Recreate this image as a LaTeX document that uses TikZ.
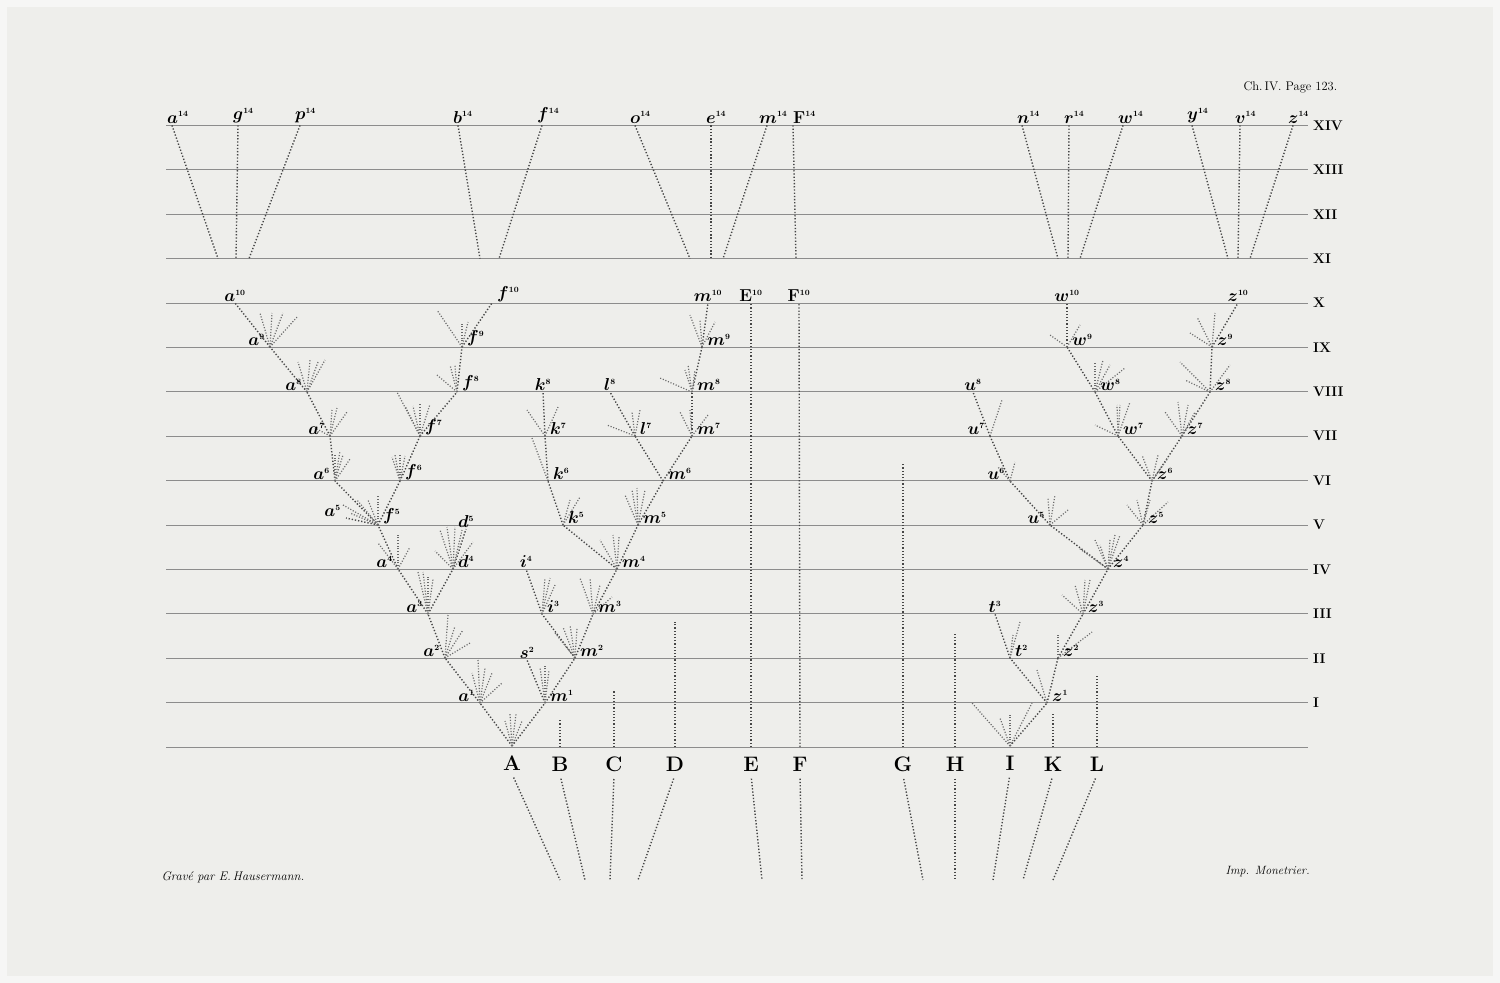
\documentclass[tikz,border=0pt]{standalone}
\usepackage{tikz}
\usetikzlibrary{positioning,calc}
\definecolor{paper}{RGB}{238,238,235}
\definecolor{rim}{RGB}{246,246,245}
\definecolor{ink}{RGB}{70,70,70}
\tikzset{
rule/.style={draw=black!45,line width=0.9pt},
branch/.style={draw=ink,line width=1.4pt,dash pattern=on 1.3pt off 1.9pt},
twig/.style={draw=black!58,line width=1.2pt,dash pattern=on 1.1pt off 1.7pt},
sp/.style={inner xsep=5pt,inner ysep=1pt,font=\fontsize{16}{16}\selectfont\boldmath},
genus/.style={font=\bfseries\fontsize{21}{21}\selectfont},
gen/.style={anchor=west,inner sep=1pt,font=\bfseries\fontsize{14}{14}\selectfont},
note/.style={anchor=west,font=\itshape\fontsize{12.5}{12.5}\selectfont}
}
\begin{document}
\begin{tikzpicture}[x=1pt,y=-1pt]
\fill[rim] (0,0) rectangle (1500,983);
\fill[paper] (7,7) rectangle (1493,976);
\useasboundingbox (0,0) rectangle (1500,983);

% generations
\foreach \k in {0,...,14}{
\coordinate (rl\k) at (166,{747-44.4*\k});
\coordinate (rr\k) at (1308,{747-44.4*\k});
\draw[rule] (rl\k)--(rr\k);
}
\foreach \k/\r in {1/I,2/II,3/III,4/IV,5/V,6/VI,7/VII,8/VIII,9/IX,10/X,11/XI,12/XII,13/XIII,14/XIV}
\node[gen] (g\k) at ($(rr\k)+(4,0)$) {\r};

% points of the tree
\foreach \n/\x/\y in {
A/512/746,B/560/747,C/614/747,D/675/747,E/751/747,F/800/747,G/903/747,H/955/747,I/1010/746,K/1053/747,L/1097/747,
Bt/560/720,Ct/614/690,Dt/675/622,Gt/903/463,Ht/955/632,Kt/1053/712,Lt/1097/676,E10/751/303,F10/799/303,
a1/480/703,a2/445/658,a3/428/614,a4/398/569,d4/453/569,a5/346/518,d5/466/529,f5/378/525,
a6/335/481,f6/400/481,a7/330/436,f7/420/436,a8/307/392,f8/457/392,a9/270/347,f9/462/347,a10/235/303,f10/492/303,
m1/545/703,s2/527/660,m2/575/658,i3/542/614,m3/593/614,i4/526/569,m4/617/569,k5/563/525,m5/638/525,
k6/548/481,m6/663/481,k7/545/436,l7/635/436,m7/692/436,k8/543/392,l8/610/392,m8/692/392,m9/702/347,m10/708/303,
z1/1047/703,t2/1010/658,z2/1058/658,t3/995/614,z3/1083/614,z4/1108/569,u5/1050/525,z5/1143/525,
u6/1010/481,z6/1152/481,u7/990/436,w7/1118/436,z7/1182/436,u8/973/392,w8/1095/392,z8/1210/392,
w9/1067/347,z9/1212/347,w10/1067/303,z10/1238/303}
\coordinate (\n) at (\x,\y);

% lines of descent
\foreach \u/\v in {
B/Bt,C/Ct,D/Dt,E/E10,F/F10,G/Gt,H/Ht,K/Kt,L/Lt,
A/a1,A/m1,a1/a2,a2/a3,a3/a4,a3/d4,a4/f5,d4/d5,f5/a5,f5/a6,f5/f6,a6/a7,a7/a8,a8/a9,a9/a10,f6/f7,f7/f8,f8/f9,f9/f10,
m1/s2,m1/m2,m2/i3,m2/m3,i3/i4,m3/m4,m4/k5,m4/m5,k5/k6,k6/k7,k7/k8,m5/m6,m6/l7,m6/m7,l7/l8,m7/m8,m8/m9,m9/m10,
I/z1,z1/t2,z1/z2,t2/t3,z2/z3,z3/z4,z4/u5,z4/z5,u5/u6,u6/u7,u7/u8,z5/z6,z6/w7,z6/z7,w7/w8,w8/w9,w9/w10,z7/z8,z8/z9,z9/z10}
\draw[branch] (\u)--(\v);

% small offshoots
\foreach \n/\dx/\dy in {
A/-7/-25,A/-2/-32,A/4/-32,A/10/-25,
a1/-2/-43,a1/5/-35,a1/12/-30,a1/22/-20,a1/-8/-30,
a2/3/-43,a2/10/-32,a2/18/-28,a2/25/-15,
a3/-10/-42,a3/-5/-42,a3/0/-38,a3/5/-35,
a4/-20/-26,a4/0/-34,a4/12/-22,
d4/-13/-39,d4/-6/-42,d4/2/-42,d4/9/-39,d4/20/-27,d4/-18/-18,
f5/-35/-20,f5/-21/-25,f5/-10/-25,f5/0/-30,f5/-28/-12,
a6/0/-27,a6/5/-30,a6/8/-26,a6/15/-22,
f6/-5/-26,f6/0/-27,f6/5/-25,f6/-8/-24,
a7/2/-26,a7/7/-28,a7/17/-24,a7/-15/-8,
f7/-23/-44,f7/-7/-30,f7/0/-32,f7/10/-32,f7/-15/-30,
a8/-9/-30,a8/3/-32,a8/11/-30,a8/18/-32,
f8/-20/-17,f8/-7/-27,f8/-2/-27,
a9/-10/-34,a9/2/-34,a9/13/-34,a9/28/-31,
f9/-25/-37,f9/0/-25,f9/6/-25,
m1/-5/-36,m1/0/-38,m1/4/-33,
m2/-12/-31,m2/-5/-33,m2/2/-30,m2/-20/-25,
i3/3/-36,i3/8/-36,i3/13/-29,
m3/-13/-36,m3/-3/-36,m3/7/-29,m3/19/-17,
m4/-17/-29,m4/-4/-34,m4/2/-32,
k5/7/-25,k5/17/-28,
m5/-13/-30,m5/-6/-35,m5/-1/-37,m5/7/-35,
k6/-16/-43,k7/-18/-26,k7/13/-29,
l7/-28/-11,l7/-3/-24,l7/5/-26,
m7/-12/-24,m7/-2/-26,m7/16/-21,
m8/-32/-14,m8/-7/-22,m8/-4/-27,m8/3/-22,
m9/-12/-32,m9/-2/-27,m9/13/-25,
I/-38/-43,I/22/-43,I/-10/-28,I/0/-31,
z1/-10/-33,t2/3/-23,t2/10/-36,z2/0/-25,z2/34/-26,
z3/-21/-19,z3/-8/-29,z3/2/-34,z3/7/-34,
z4/-13/-29,z4/-8/-24,z4/2/-29,z4/7/-34,z4/12/-34,z4/-28/-20,
u5/-2/-27,u5/5/-30,u5/18/-15,
z5/-16/-20,z5/-6/-25,z5/7/-25,z5/25/-23,
u6/-12/-14,u6/5/-19,
z6/-10/-26,z6/6/-26,z6/16/-23,
u7/12/-36,
w7/-23/-11,w7/-1/-31,w7/2/-31,w7/12/-34,
z7/-17/-24,z7/-4/-34,z7/6/-31,z7/13/-24,
w8/0/-30,w8/8/-32,w8/15/-27,w8/30/-24,
z8/-30/-30,z8/-25/-12,z8/20/-27,
w9/-17/-12,w9/13/-22,
z9/-15/-30,z9/3/-34,z9/-22/-14}
\draw[twig] (\n)--++(\dx,\dy);

% names of the forms
\foreach \n/\a/\t/\s in {
a1/south east/a/1,a2/south east/a/2,a3/south east/a/3,a4/south east/a/4,d4/south west/d/4,
a5/south east/a/5,f5/south west/f/5,d5/south/d/5,a6/south east/a/6,f6/south west/f/6,
a7/south east/a/7,f7/south west/f/7,a8/south east/a/8,f8/south west/f/8,a9/south east/a/9,
f9/south west/f/9,a10/south/a/10,f10/south west/f/10,
m1/south west/m/1,s2/south/s/2,m2/south west/m/2,i3/south west/i/3,i4/south/i/4,m3/south west/m/3,
m4/south west/m/4,k5/south west/k/5,m5/south west/m/5,k6/south west/k/6,m6/south west/m/6,
k7/south west/k/7,l7/south west/l/7,m7/south west/m/7,k8/south/k/8,l8/south/l/8,m8/south west/m/8,
m9/south west/m/9,m10/south/m/10,E10/south/\mathbf{E}/10,F10/south/\mathbf{F}/10,
z1/south west/z/1,t2/south west/t/2,z2/south west/z/2,t3/south/t/3,z3/south west/z/3,
z4/south west/z/4,u5/south east/u/5,z5/south west/z/5,u6/south east/u/6,z6/south west/z/6,
u7/south east/u/7,w7/south west/w/7,z7/south west/z/7,u8/south/u/8,w8/south west/w/8,
z8/south west/z/8,w9/south west/w/9,z9/south west/z/9,w10/south/w/10,z10/south/z/10}
\node[sp,anchor=\a] (l\n) at (\n) {$\t^{\scriptscriptstyle\s}$};

% fourteenth generation
\foreach \n/\x/\b/\t/\sh in {a/172/218/a/-6,q/238/236/g/-6,p/300/249/p/-6,b/458/480/b/-6,f/542/499/f/-6,o/635/690/o/-6,
e/711/711/e/-6,m/767/723/m/-9,F/793/796/\mathbf{F}/-1,n/1022/1058/n/-6,r/1069/1068/r/-6,w/1123/1080/w/-6,
y/1192/1228/y/-6,v/1240/1238/v/-6,z/1293/1250/z/-6}{
\coordinate (\n14) at (\x,125.4);
\coordinate (\n11) at (\b,258.6);
\draw[branch] (\n14)--(\n11);
\node[sp,inner xsep=1pt,anchor=south west] (l\n14) at ($(\n14)+(\sh,-1)$) {$\t^{\scriptscriptstyle 14}$};
}

% the eleven species
\foreach \n/\d in {A/560,B/585,C/610,D/638,E/762,F/802,G/923,H/955,I/993,K/1023,L/1053}{
\node[genus] (l\n) at ($(\n)+(0,17)$) {\n};
\coordinate (\n-dn) at (\d,880);
\draw[branch,shorten <=4pt] (l\n.south)--(\n-dn);
}

\node[anchor=west,font=\fontsize{12.5}{12.5}\selectfont] (page) at (1240,87) {Ch.\,IV. Page 123.};
\node[note] (grave) at (158,877) {Gravé par E.\,Hausermann.};
\node[note,font=\itshape\fontsize{12}{12}\selectfont] (imp) at (1222,872) {Imp. Monetrier.};
\end{tikzpicture}
\end{document}
